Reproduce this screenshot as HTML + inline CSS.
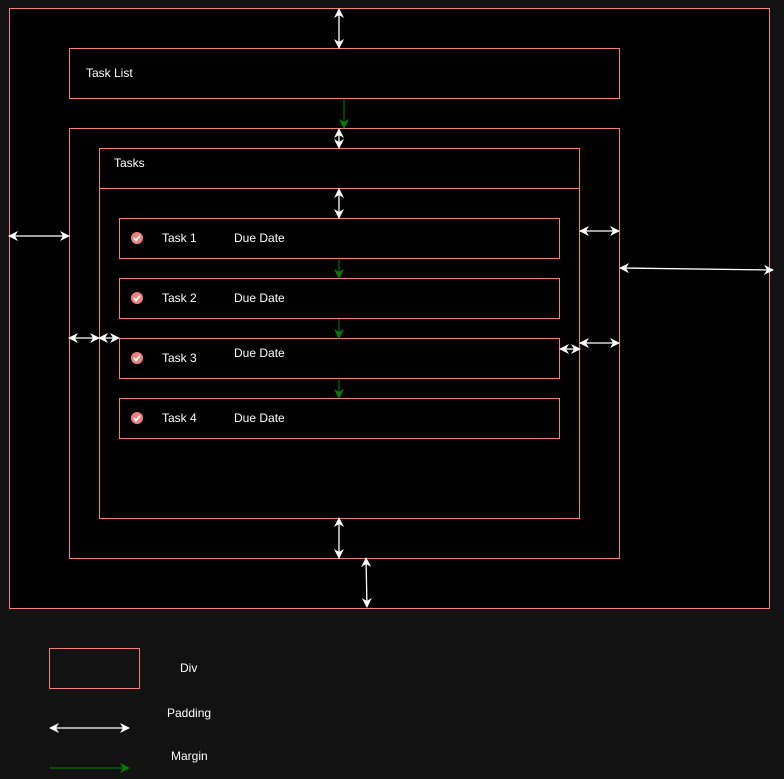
<!DOCTYPE html>
<html><head><meta charset="utf-8"><style>
html,body{margin:0;padding:0;background:#121212;}
svg{display:block;}
text{font-family:"Liberation Sans",Arial,sans-serif;font-size:12px;fill:#fff;}
</style></head><body>
<svg width="784" height="779" viewBox="0 0 784 779" xmlns="http://www.w3.org/2000/svg">
<defs>
<marker id="w" viewBox="0 0 10 10" refX="9" refY="5" markerWidth="10" markerHeight="10" orient="auto-start-reverse" markerUnits="userSpaceOnUse"><path d="M0,0 L10,5 L0,10 L3,5 Z" fill="#fff"/></marker>
<marker id="g" viewBox="0 0 10 10" refX="9" refY="5" markerWidth="10" markerHeight="10" orient="auto" markerUnits="userSpaceOnUse"><path d="M0,0 L10,5 L0,10 L3,5 Z" fill="#008000"/></marker>
</defs>
<g fill="none" stroke="#f08080" stroke-width="1">
<rect x="9.5" y="8.5" width="760" height="600" fill="#000"/>
<rect x="69.5" y="48.5" width="550" height="50"/>
<rect x="69.5" y="128.5" width="550" height="430"/>
<rect x="99.5" y="148.5" width="480" height="370"/>
<line x1="99.5" y1="188.5" x2="579.5" y2="188.5"/>
<rect x="119.5" y="218.5" width="440" height="40"/>
<rect x="119.5" y="278.5" width="440" height="40"/>
<rect x="119.5" y="338.5" width="440" height="40"/>
<rect x="119.5" y="398.5" width="440" height="40"/>
<rect x="49.5" y="648.5" width="90" height="40"/>
</g>
<text x="86" y="77">Task List</text>
<text x="114" y="167">Tasks</text>
<g>
<circle cx="137" cy="238" r="6" fill="#f08080"/><path d="M134,238 l2,2.5 l4,-5" stroke="#fff" stroke-width="1.8" fill="none"/>
<circle cx="137" cy="298" r="6" fill="#f08080"/><path d="M134,298 l2,2.5 l4,-5" stroke="#fff" stroke-width="1.8" fill="none"/>
<circle cx="137" cy="358" r="6" fill="#f08080"/><path d="M134,358 l2,2.5 l4,-5" stroke="#fff" stroke-width="1.8" fill="none"/>
<circle cx="137" cy="418" r="6" fill="#f08080"/><path d="M134,418 l2,2.5 l4,-5" stroke="#fff" stroke-width="1.8" fill="none"/>
</g>
<text x="162" y="242">Task 1</text><text x="234" y="242">Due Date</text>
<text x="162" y="302">Task 2</text><text x="234" y="302">Due Date</text>
<text x="162" y="362">Task 3</text><text x="234" y="357">Due Date</text>
<text x="162" y="422">Task 4</text><text x="234" y="422">Due Date</text>
<g stroke="#fff" stroke-width="1.3" marker-start="url(#w)" marker-end="url(#w)">
<line x1="339" y1="9" x2="339" y2="48"/>
<line x1="339" y1="129" x2="339" y2="148"/>
<line x1="339" y1="189" x2="339" y2="218"/>
<line x1="339" y1="518" x2="339" y2="558"/>
<line x1="366" y1="558" x2="367" y2="607"/>
<line x1="9" y1="236" x2="69" y2="236"/>
<line x1="580" y1="231" x2="619" y2="231"/>
<line x1="620" y1="268" x2="773" y2="270"/>
<line x1="69" y1="338" x2="99" y2="338"/>
<line x1="99" y1="338" x2="119" y2="338"/>
<line x1="560" y1="349" x2="580" y2="349"/>
<line x1="580" y1="343" x2="619" y2="343"/>
<line x1="50" y1="728" x2="129" y2="728"/>
</g>
<g stroke="#008000" stroke-width="1" marker-end="url(#g)">
<line x1="344" y1="99" x2="344" y2="128"/>
<line x1="339" y1="259" x2="339" y2="278"/>
<line x1="339" y1="319" x2="339" y2="338"/>
<line x1="339" y1="379" x2="339" y2="398"/>
<line x1="50" y1="768" x2="129" y2="768"/>
</g>
<text x="180" y="672">Div</text>
<text x="167" y="717">Padding</text>
<text x="171" y="760">Margin</text>
</svg>
</body></html>
